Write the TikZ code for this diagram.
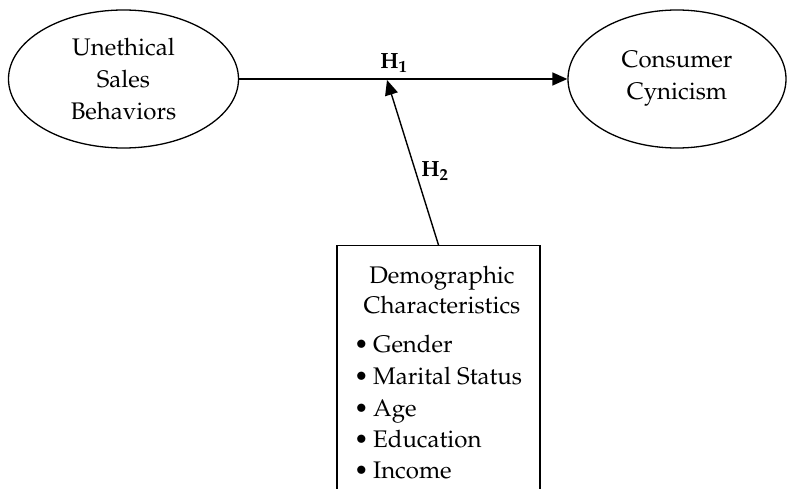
\documentclass[tikz,border=0pt]{standalone}
\usepackage[T1]{fontenc}
\usepackage{mathpazo}
\usetikzlibrary{shapes.geometric,arrows.meta}
\begin{document}
\begin{tikzpicture}[x=1pt,y=1pt,
  txt/.style={font=\fontsize{24}{32}\selectfont},
  oval/.style={draw,line width=1.3pt,ellipse,inner sep=0pt,align=center,txt},
  conn/.style={line width=1.4pt,-{Triangle[length=15pt,width=13pt]}},
  hyp/.style={font=\fontsize{22}{26}\selectfont\bfseries},
  item/.style={txt,anchor=base west,inner sep=0pt},
  ttl/.style={txt,anchor=base,inner sep=0pt}]
\useasboundingbox (0,0) rectangle (787,-489);
\clip (0,0) rectangle (787,-489);
\node[oval,minimum width=230pt,minimum height=138pt] (ush) at (123.5,-79) {Unethical\\Sales\\Behaviors};
\node[oval,minimum width=218pt,minimum height=138pt] (cc) at (677,-79) {\raisebox{-3pt}{Consumer}\\\raisebox{-3pt}{Cynicism}};
\node[draw,line width=1.3pt,anchor=north,minimum width=203pt,minimum height=280pt] (demo) at (438.5,-245) {};
\node[ttl] (t1) at (442,-283) {Demographic};
\node[ttl] (t2) at (442,-313) {Characteristics};
\node[item] (g1) at (356,-352) {\makebox[17pt][l]{\hspace{-2pt}\textbullet}Gender};
\node[item] (g2) at (356,-384) {\makebox[17pt][l]{\hspace{-2pt}\textbullet}Marital Status};
\node[item] (g3) at (356,-416) {\makebox[17pt][l]{\hspace{-2pt}\textbullet}Age};
\node[item] (g4) at (356,-447) {\makebox[17pt][l]{\hspace{-2pt}\textbullet}Education};
\node[item] (g5) at (356,-478) {\makebox[17pt][l]{\hspace{-2pt}\textbullet}Income};
\draw[conn] (ush.east) -- (cc.west);
\coordinate (h2tip) at (387,-80);
\draw[conn] (demo.north) -- (h2tip);
\node[hyp] (h1) at (394,-63) {H\textsubscript{1}};
\node[hyp] (h2) at (435,-171) {H\textsubscript{2}};
\end{tikzpicture}
\end{document}
